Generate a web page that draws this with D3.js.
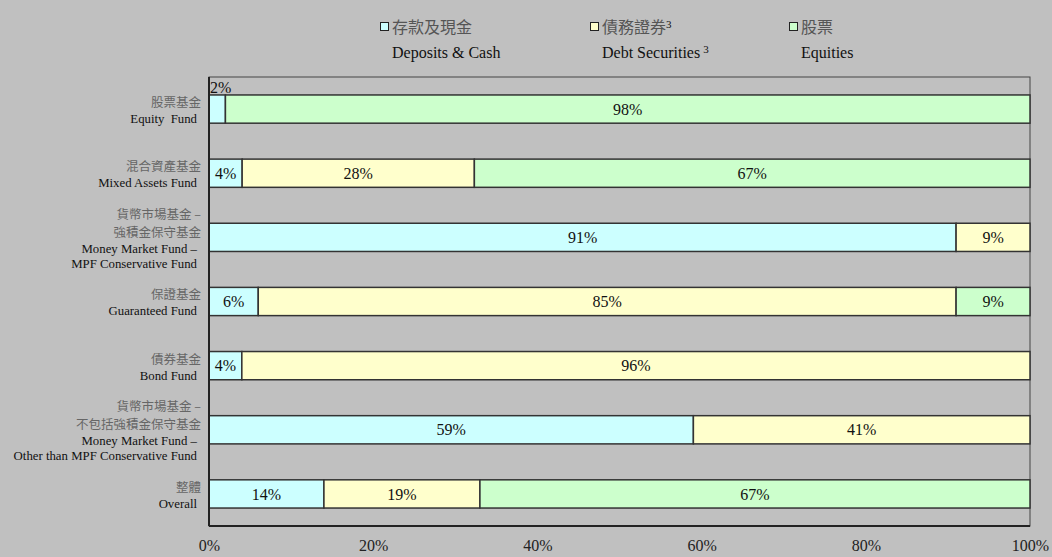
<!DOCTYPE html>
<html>
<head>
<meta charset="utf-8">
<script src="https://cdn.jsdelivr.net/npm/d3@7"></script>
<style>
  body { margin: 0; background: #c0c0c0; }
  svg { display: block; }
</style>
</head>
<body>
<div id="chart"></div>
<script>
// Chart data
const fundsZh = [["股票基金"], ["混合資產基金"], ["貨幣市場基金 –", "強積金保守基金"], ["保證基金"], ["債券基金"], ["貨幣市場基金 –", "不包括強積金保守基金"], ["整體"]];
const fundsEn = [["Equity Fund"], ["Mixed Assets Fund"], ["Money Market Fund –", "MPF Conservative Fund"], ["Guaranteed Fund"], ["Bond Fund"], ["Money Market Fund –", "Other than MPF Conservative Fund"], ["Overall"]];
const deposits = [2, 4, 91, 6, 4, 59, 14];
const debt = [0, 28, 9, 85, 96, 41, 19];
const equities = [98, 67, 0, 9, 0, 0, 67];
const seriesZh = ["存款及現金", "債務證券", "股票"];
const seriesEn = ["Deposits & Cash", "Debt Securities", "Equities"];
const xTicks = [0, 20, 40, 60, 80, 100];

const colors = ["#ccffff", "#ffffcc", "#ccffcc"];
const serif = "'Liberation Serif', 'Times New Roman', serif";
const cjk = "'Noto Sans CJK TC', 'Noto Sans CJK SC', sans-serif";

const W = 1052, H = 557;
const margin = { top: 77, right: 22, bottom: 31, left: 209 };
const width = W - margin.left - margin.right,
    height = H - margin.top - margin.bottom;

const svg = d3.select("#chart").append("svg")
    .attr("width", W).attr("height", H)
    .style("background", "#c0c0c0");

const g = svg.append("g").attr("transform", `translate(${margin.left},${margin.top})`);

const idx = d3.range(fundsEn.length);
const xScale = d3.scaleLinear().domain([0, 100]).range([0, width]);
const yScale = d3.scaleBand().domain(idx).range([0, height]).paddingInner(0.56).paddingOuter(0.28);

// plot frame
g.append("rect")
    .attr("width", width).attr("height", height)
    .attr("fill", "none").attr("stroke", "#444").attr("stroke-width", 1);

// 100% stacked segments (each row normalised to its total)
const rows = idx.map(i => {
    const vals = [deposits[i], debt[i], equities[i]];
    const total = d3.sum(vals);
    let acc = 0;
    return vals.map((v, k) => {
        const s = acc; acc += v / total * 100;
        return { i, k, v, x0: s, x1: acc };
    });
});
const segs = rows.flat().filter(d => d.v > 0);

g.selectAll(".seg")
    .data(segs)
    .enter().append("rect")
    .attr("class", "seg")
    .attr("x", d => xScale(d.x0))
    .attr("width", d => xScale(d.x1) - xScale(d.x0))
    .attr("y", d => yScale(d.i))
    .attr("height", yScale.bandwidth())
    .attr("fill", d => colors[d.k])
    .attr("stroke", "#333")
    .attr("stroke-width", 1.5);

g.selectAll(".lbl")
    .data(segs)
    .enter().append("text")
    .attr("class", "lbl")
    .attr("font-family", serif)
    .attr("font-size", 16)
    .attr("fill", "#111")
    .each(function (d) {
        const w = xScale(d.x1) - xScale(d.x0);
        const t = d3.select(this).text(d.v + "%");
        if (w < 24) {
            // too narrow: sit the label above the bar
            t.attr("x", xScale(d.x0) + 1).attr("y", yScale(d.i) - 2).attr("text-anchor", "start");
        } else {
            t.attr("x", (xScale(d.x0) + xScale(d.x1)) / 2)
             .attr("y", yScale(d.i) + yScale.bandwidth() / 2)
             .attr("dy", "0.35em")
             .attr("text-anchor", "middle");
        }
    });

// thicker axis lines (left and bottom)
g.append("line").attr("x1", 0).attr("x2", 0).attr("y1", 0).attr("y2", height)
    .attr("stroke", "#222").attr("stroke-width", 2);
g.append("line").attr("x1", 0).attr("x2", width).attr("y1", height).attr("y2", height)
    .attr("stroke", "#222").attr("stroke-width", 2);

// x axis
const xAxis = d3.axisBottom(xScale).tickValues(xTicks).tickSize(0).tickFormat(d => d + "%");
const xg = g.append("g").attr("transform", `translate(0,${height})`).call(xAxis);
xg.select(".domain").remove();
xg.selectAll("text")
    .attr("font-family", serif).attr("font-size", 16).attr("fill", "#222")
    .attr("y", 14);

// y labels: chinese lines first, then english lines
idx.forEach(i => {
    const lines = [];
    let pos = 0;
    fundsZh[i].forEach((s, j) => { if (j > 0) pos += 18; lines.push({ s, zh: true, pos }); });
    fundsEn[i].forEach((s, j) => { pos += j === 0 ? 16 : 15; lines.push({ s, zh: false, pos }); });
    const cy = yScale(i) + yScale.bandwidth() / 2;
    const shift = cy - pos / 2 + 1.5;
    lines.forEach(l => {
        g.append("text")
            .attr("x", l.zh ? -8 : -12)
            .attr("y", shift + l.pos)
            .attr("dy", "0.35em")
            .attr("text-anchor", "end")
            .attr("font-family", l.zh ? cjk : serif)
            .attr("font-size", l.zh ? 12.5 : 12.8)
            .attr("fill", l.zh ? "#666" : "#111")
            .style("word-spacing", i === 0 && !l.zh ? "3px" : null)
            .text(l.s);
    });
});

// legend
const legendX = [380, 590, 789];
const legend = svg.append("g");
seriesZh.forEach((name, k) => {
    const lg = legend.append("g").attr("transform", `translate(${legendX[k]},0)`);
    lg.append("rect").attr("x", 0.5).attr("y", 22.5).attr("width", 8).attr("height", 8)
        .attr("fill", colors[k]).attr("stroke", "#222").attr("stroke-width", 1);
    const zt = lg.append("text").attr("x", 12).attr("y", 27).attr("dy", "0.35em")
        .attr("font-family", cjk).attr("font-size", 16).attr("fill", "#555").text(name);
    const et = lg.append("text").attr("x", 12).attr("y", 52).attr("dy", "0.35em")
        .attr("font-family", serif).attr("font-size", 16).attr("fill", "#111").text(seriesEn[k]);
    if (k === 1) {
        zt.append("tspan").attr("dy", "-0.45em").attr("font-family", serif).attr("font-size", 11).attr("fill", "#111").text("3");
        et.append("tspan").attr("dx", 3).attr("dy", "-0.45em").attr("font-size", 11).text("3");
    }
});
</script>
</body>
</html>
